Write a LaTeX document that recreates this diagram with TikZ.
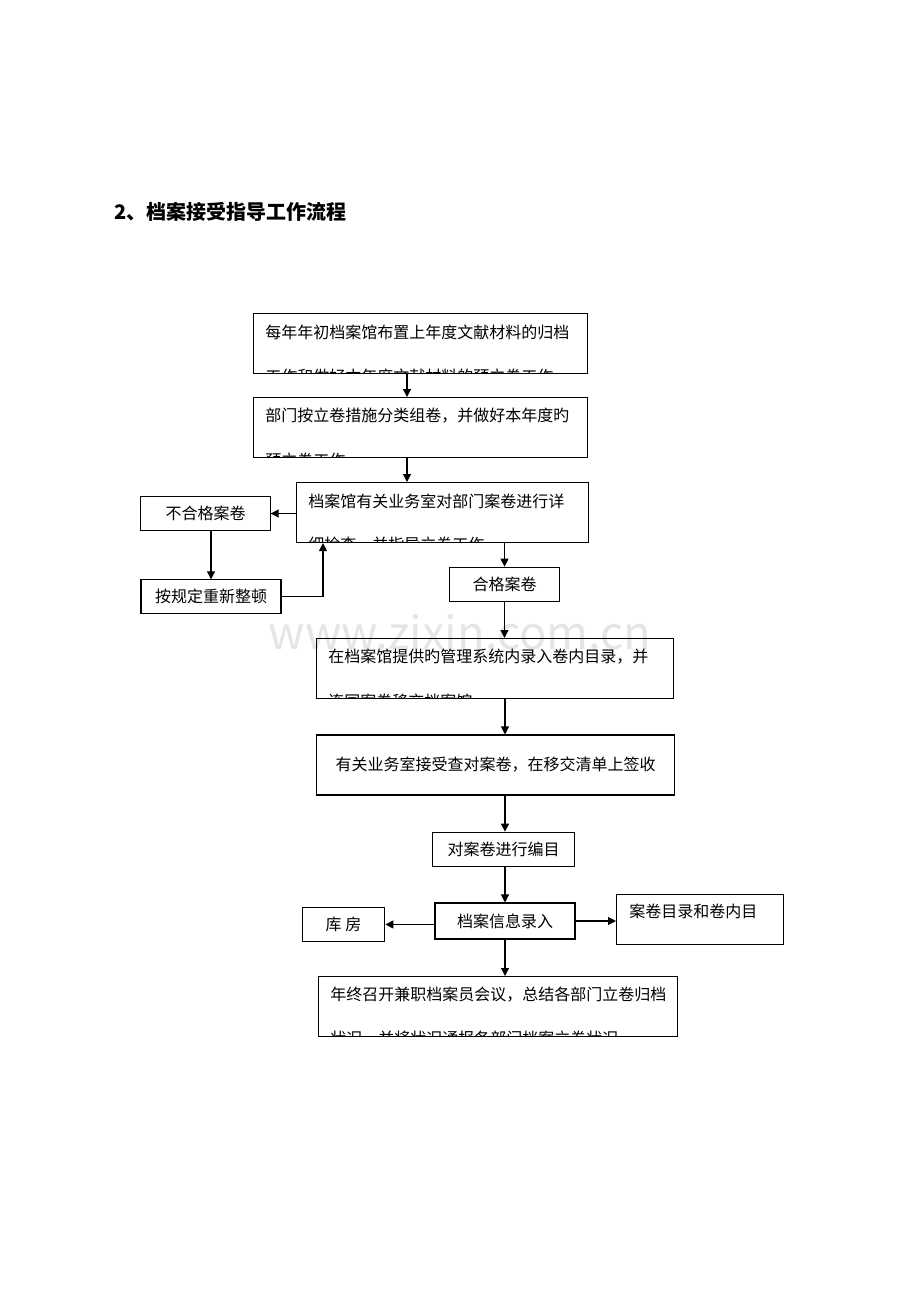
\documentclass[tikz,border=0pt]{standalone}
\usepackage{fontspec}
\setmainfont{Noto Sans CJK SC}
\usetikzlibrary{arrows.meta}
\tikzset{
  box/.style={draw, line width=0.8pt, inner sep=0pt, font=\fontsize{12}{14}\selectfont},
  txt/.style={anchor=west, font=\fontsize{12}{14}\selectfont, inner sep=0pt},
  flow/.style={-{Triangle[length=6pt,width=6pt]}, line width=0.8pt}
}
\begin{document}
\begin{tikzpicture}[x=0.75pt,y=-0.75pt]
    \useasboundingbox (0,0) rectangle (920,1302);

    % Title and watermark
    \node[anchor=west, font=\fontsize{15}{18}\selectfont\bfseries] (title) at (110,212) {2、档案接受指导工作流程};
    \node[font=\fontsize{34}{40}\selectfont, text=black!10] (mark) at (460,632) {www.zixin.com.cn};

    % Boxes with a clipped second line
    \foreach \n/\xa/\ya/\xb/\yb/\la/\lb in {
        b1/253/313/587/373/每年年初档案馆布置上年度文献材料的归档/工作和做好本年度文献材料的预立卷工作,
        b2/253/397/587/457/部门按立卷措施分类组卷，并做好本年度旳/预立卷工作,
        b3/296/482/588/542/档案馆有关业务室对部门案卷进行详/细检查，并指导立卷工作,
        b5/316/638/673/698/在档案馆提供旳管理系统内录入卷内目录，并/连同案卷移交档案馆,
        b9/318/976/677/1036/年终召开兼职档案员会议，总结各部门立卷归档/状况，并将状况通报各部门档案立卷状况} {
      \node[box, minimum width={(\xb-\xa)*0.75pt}, minimum height={(\yb-\ya)*0.75pt}, anchor=north west] (\n) at (\xa,\ya) {};
      \node[txt] at (\xa+12,\ya+19) {\la};
      \begin{scope}
        \clip (\xa,\ya) rectangle (\xb,\yb);
        \node[txt] at (\xa+12,\yb+3) {\lb};
      \end{scope}
    }

    % Plain boxes
    \node[box, minimum width=269pt, minimum height=45pt] (b6) at (495.5,765) {有关业务室接受查对案卷，在移交清单上签收};
    \node[box, minimum width=97pt, minimum height=25pt] (bad) at (205.5,513.5) {不合格案卷};
    \node[box, minimum width=105pt, minimum height=25pt] (redo) at (211,596.5) {按规定重新整顿};
    \node[box, minimum width=83pt, minimum height=26pt] (good) at (504.5,584.5) {合格案卷};
    \node[box, minimum width=106pt, minimum height=26pt] (cat) at (503.5,849.5) {对案卷进行编目};
    \node[box, minimum width=105pt, minimum height=27pt] (entry) at (505,921) {档案信息录入};
    \node[box, minimum width=62pt, minimum height=26pt] (store) at (343.5,924.5) {库\ 房};
    \node[box, minimum width=125pt, minimum height=37.5pt, anchor=north west] (list) at (616,894) {};
    \node[txt] at (629,911) {案卷目录和卷内目};

    % Connectors
    \draw[flow] (b1.south -| 407,0) -- (b2.north -| 407,0);
    \draw[flow] (b2.south -| 407,0) -- (b3.north -| 407,0);
    \draw[flow] (b3.west |- bad.east) -- (bad.east);
    \draw[flow] (bad.south -| 211,0) -- (redo.north -| 211,0);
    \draw[flow] (redo.east) -| (b3.south -| 323,0);
    \draw[flow] (b3.south -| good.north) -- (good.north);
    \draw[flow] (good.south) -- (b5.north -| good.south);
    \draw[flow] (b5.south -| 505,0) -- (b6.north -| 505,0);
    \draw[flow] (b6.south -| 505,0) -- (cat.north -| 505,0);
    \draw[flow] (cat.south -| 505,0) -- (entry.north -| 505,0);
    \draw[flow] (entry.west |- store.east) -- (store.east);
    \draw[flow] (entry.east) -- (list.west |- entry.east);
    \draw[flow] (entry.south) -- (b9.north -| entry.south);
\end{tikzpicture}
\end{document}
